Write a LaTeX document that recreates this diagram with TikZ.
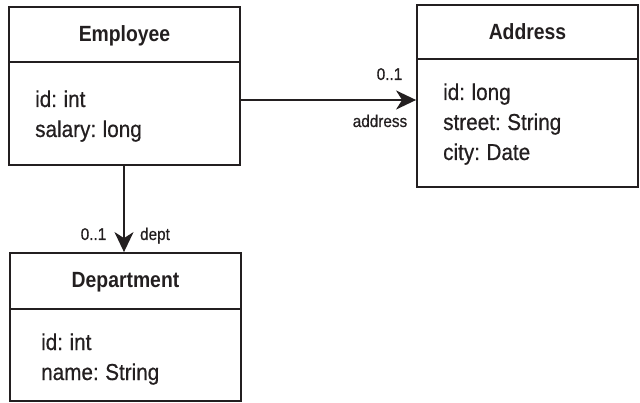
\documentclass[tikz,border=0pt]{standalone}
\usepackage{fontspec}
\setmainfont{Liberation Sans}[FakeStretch=0.88, WordSpace=0.8]
\newfontfamily\medfont{Liberation Sans}[FakeStretch=0.9, WordSpace=0.8, FakeBold=0.6]
\usetikzlibrary{arrows.meta}
\definecolor{ink}{HTML}{231F20}
\begin{document}
\begin{tikzpicture}[x=1pt,y=-1pt,
  box/.style={draw=ink, line width=1.8pt, rectangle, inner sep=0pt},
  title/.style={anchor=base, text=ink, font=\bfseries\fontsize{22}{22}\selectfont, inner sep=0pt},
  attr/.style={anchor=base west, text=ink, font=\medfont\fontsize{23}{23}\selectfont, inner sep=0pt},
  lab/.style={anchor=base, text=ink, font=\medfont\fontsize{17}{17}\selectfont, inner sep=0pt},
  arr/.style={draw=ink, line width=1.8pt, -{Stealth[length=20pt,width=19pt,inset=6pt]}}]
\useasboundingbox (0,0) rectangle (640,403);
% Employee
\node[box, minimum width=231pt, minimum height=158pt] (emp) at (124.5,86) {};
\draw[draw=ink, line width=1.8pt] (emp.west |- 0,62) -- (emp.east |- 0,62);
\node[title] (empt) at (124.5,42) {Employee};
\node[attr] (empa1) at (35,107) {id: int};
\node[attr] (empa2) at (35,137) {salary: long};
% Address
\node[box, minimum width=221pt, minimum height=182pt] (addr) at (527.5,96) {};
\draw[draw=ink, line width=1.8pt] (addr.west |- 0,59) -- (addr.east |- 0,59);
\node[title] (addrt) at (527.5,40) {Address};
\node[attr] (addra1) at (443,100) {id: long};
\node[attr] (addra2) at (443,130) {street: String};
\node[attr] (addra3) at (443,160) {city: Date};
% Department
\node[box, minimum width=231pt, minimum height=148pt] (dep) at (125.5,327) {};
\draw[draw=ink, line width=1.8pt] (dep.west |- 0,309) -- (dep.east |- 0,309);
\node[title] (dept) at (125.5,288) {Department};
\node[attr] (depa1) at (41,350) {id: int};
\node[attr] (depa2) at (41,380) {name: String};
% connectors
\draw[arr] (emp.east |- 0,100) -- (addr.west |- 0,100);
\node[lab] (m1) at (389.5,80) {0..1};
\node[lab] (r1) at (380,127) {address};
\draw[arr] (emp.south -| 124,0) -- (dep.north -| 124,0);
\node[lab] (m2) at (93.5,240) {0..1};
\node[lab] (r2) at (155,240) {dept};
\end{tikzpicture}
\end{document}
